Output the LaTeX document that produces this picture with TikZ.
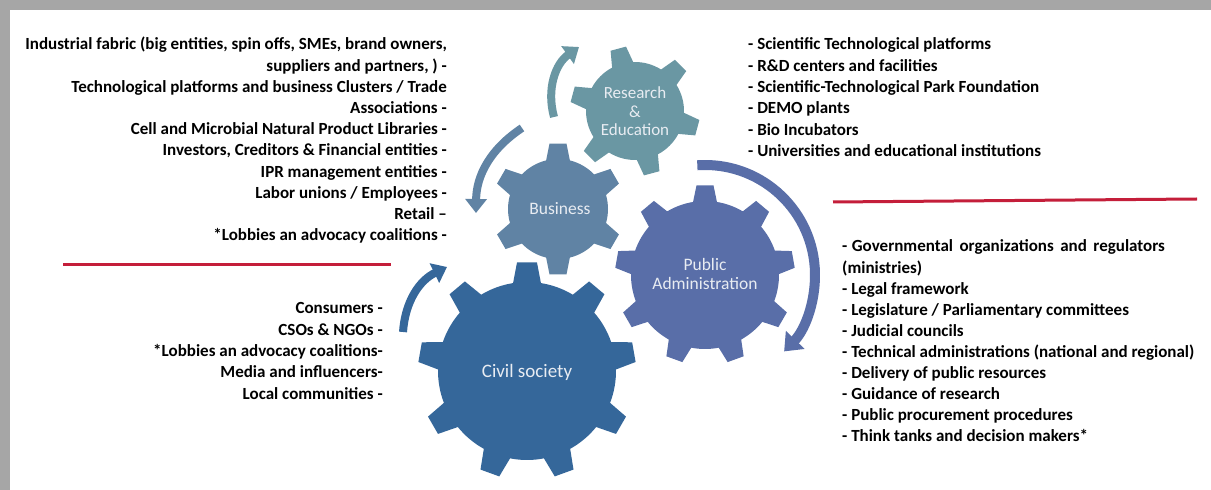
\documentclass[tikz,border=0pt]{standalone}
\usepackage{fontspec}
\setmainfont{Carlito}
\usetikzlibrary{arrows.meta,calc}
\definecolor{civilc}{HTML}{35679A}
\definecolor{pac}{HTML}{596EA8}
\definecolor{busc}{HTML}{6083A4}
\definecolor{rec}{HTML}{6A97A3}
\definecolor{redl}{HTML}{C41E3A}
\definecolor{framec}{HTML}{A6A6A6}
\definecolor{geartext}{HTML}{E8ECF2}
% #1 colour, #2 cx, #3 cy, #4 body radius, #5 tip radius, #6 teeth, #7 first angle, #8 base half width, #9 tip half width
\newcommand\mygear[9]{%
  \pgfmathsetmacro\gstep{360/#6}%
  \pgfmathtruncatemacro\glast{#6-1}%
  \pgfmathsetmacro\gba{deg(#8/#4)}%
  \pgfmathsetmacro\gta{deg(#9/#5)}%
  \begin{scope}[shift={(#2,#3)}]
    \fill[#1] ({#7-\gba}:#4)
      \foreach \k in {0,...,\glast}{
        -- ({#7+\k*\gstep-\gba}:#4)
        -- ({#7+\k*\gstep-\gta}:#5)
        -- ({#7+\k*\gstep+\gta}:#5)
        -- ({#7+\k*\gstep+\gba}:#4)
        arc[start angle={#7+\k*\gstep+\gba}, end angle={#7+(\k+1)*\gstep-\gba}, radius=#4]
      } -- cycle;
  \end{scope}}
\tikzset{
  txtfont/.style={font=\bfseries\fontsize{17}{20}\selectfont},
  lefttxt/.style={txtfont, anchor=base east, inner sep=0pt},
  righttxt/.style={txtfont, anchor=base west, inner sep=0pt},
  gearlabel/.style={text=geartext, align=center, inner sep=0pt, font=\fontsize{17.5}{19}\selectfont},
  redrule/.style={draw=redl, line width=3pt},
  cyclearrow/.style={line width=8pt, -{Triangle[width=21pt,length=14pt]}},
}
\begin{document}
\begin{tikzpicture}[x=1pt,y=1pt]
\useasboundingbox (0,0) rectangle (1211,490);
\fill[framec] (0,0) rectangle (1211,490);
\fill[white] (10,0) rectangle (1211,480);

% gears
\coordinate (civ) at (527,119);
\coordinate (pa) at (705,215);
\coordinate (bus) at (558,281);
\coordinate (re) at (635,379);
\mygear{civilc}{527}{119}{89}{109}{9}{90}{14}{10}
\mygear{pac}{705}{215}{74}{90}{9}{90}{12}{8.5}
\mygear{busc}{558}{281}{50}{66}{6}{90}{12}{8.5}
\mygear{rec}{635}{379}{49}{65}{6}{105}{11}{8}

\node[gearlabel, font=\fontsize{19}{21}\selectfont] (civl) at (527,118) {Civil society};
\node[gearlabel, font=\fontsize{17.5}{19}\selectfont] (pal) at (705,216.5) {Public\\Administration};
\node[gearlabel] (busl) at (560,281) {Business};
\node[gearlabel, font=\fontsize{17}{18.5}\selectfont] (rel) at (635,378.5) {Research\\\&\\Education};

% arrows
\coordinate (a1s) at (554,373);
\coordinate (a1e) at (579,443);
\draw[cyclearrow, rec] (a1s) to[bend left=35] (a1e);
\coordinate (a2s) at (522,362);
\coordinate (a2e) at (476,277);
\draw[cyclearrow, busc] (a2s) to[bend right=28] (a2e);
\coordinate (a3s) at (403,158);
\coordinate (a3e) at (447,223);
\draw[cyclearrow, civilc] (a3s) to[bend left=30] (a3e);
\coordinate (a4s) at ($(pa)+(94:110)$);
\draw[pac, line width=10pt, -{Triangle[width=25pt,length=16pt]}] (a4s) arc[start angle=94, end angle=-44, radius=110];

% red rules
\coordinate (r1a) at (63,225);
\coordinate (r1b) at (391,225);
\draw[redrule] (r1a) -- (r1b);
\coordinate (r2a) at (833,288);
\coordinate (r2b) at (1197,291);
\draw[redrule] (r2a) -- (r2b);

% text blocks
\foreach \t [count=\i] in {%
  {Industrial fabric (big entities, spin offs, SMEs, brand owners,},
  {suppliers and partners, ) -},
  {Technological platforms and business Clusters / Trade},
  {Associations -},
  {Cell and Microbial Natural Product Libraries -},
  {Investors, Creditors \& Financial entities -},
  {IPR management entities -},
  {Labor unions / Employees -},
  {Retail --},
  {*Lobbies an advocacy coalitions -}}
  \node[lefttxt] (lt\i) at (447,{440-(\i-1)*21.2}) {\t};

\foreach \t [count=\i] in {%
  {- Scientific Technological platforms},
  {- R\&D centers and facilities},
  {- Scientific-Technological Park Foundation},
  {- DEMO plants},
  {- Bio Incubators},
  {- Universities and educational institutions}}
  \node[righttxt] (rt\i) at (748,{440-(\i-1)*21.3}) {\t};

\foreach \t [count=\i] in {%
  {-\hspace{4.5pt}\makebox[313pt][s]{Governmental organizations and regulators}},
  {(ministries)},
  {- Legal framework},
  {- Legislature / Parliamentary committees},
  {- Judicial councils},
  {- Technical administrations (national and regional)},
  {- Delivery of public resources},
  {- Guidance of research},
  {- Public procurement procedures},
  {- Think tanks and decision makers*}}
  \node[righttxt] (rb\i) at (842,{238-(\i-1)*21.1}) {\t};

\foreach \t [count=\i] in {%
  {Consumers -},
  {CSOs \& NGOs -},
  {*Lobbies an advocacy coalitions-},
  {Media and influencers-},
  {Local communities -}}
  \node[lefttxt] (lb\i) at (383,{176-(\i-1)*21.3}) {\t};
\end{tikzpicture}
\end{document}
